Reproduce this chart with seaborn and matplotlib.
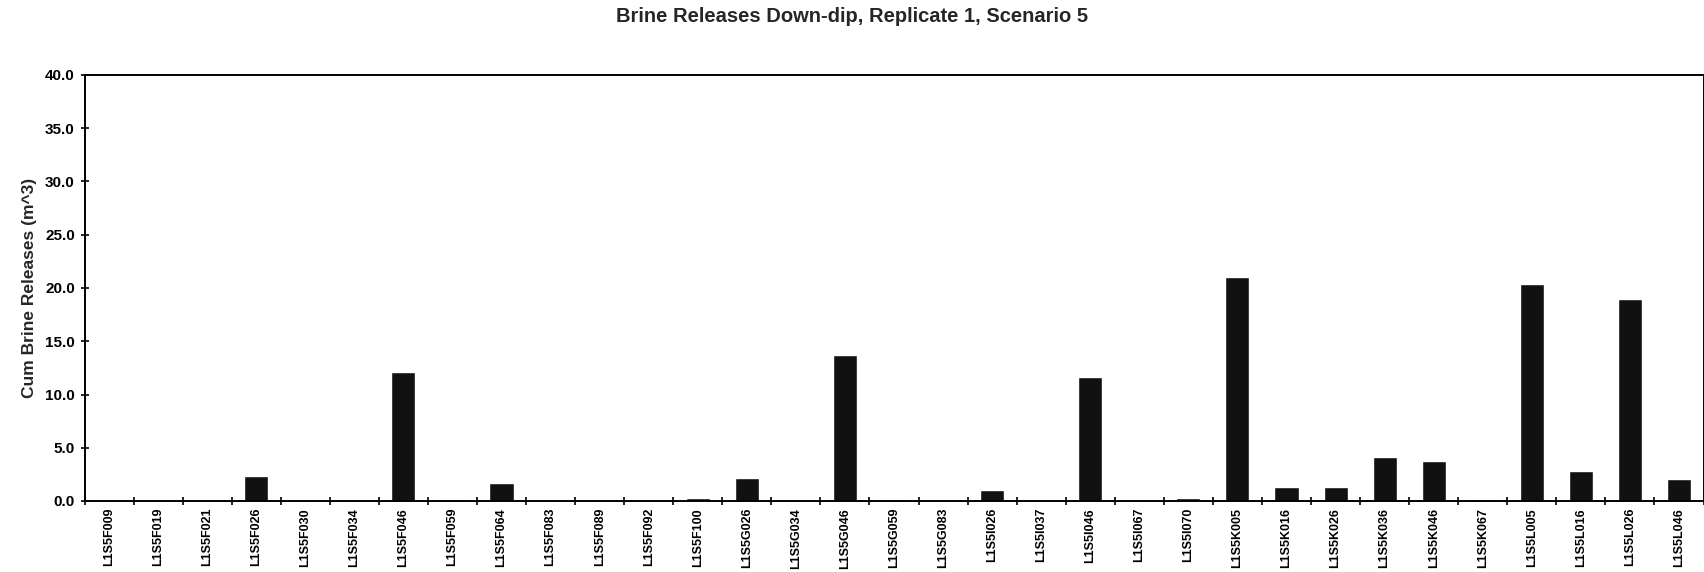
import numpy as np
import pandas as pd
import matplotlib
matplotlib.use("Agg")
import matplotlib.pyplot as plt
import seaborn as sns
from matplotlib.ticker import FixedLocator

# 데이터
wells = ["L1S5F009", "L1S5F019", "L1S5F021", "L1S5F026", "L1S5F030", "L1S5F034",
         "L1S5F046", "L1S5F059", "L1S5F064", "L1S5F083", "L1S5F089", "L1S5F092",
         "L1S5F100", "L1S5G026", "L1S5G034", "L1S5G046", "L1S5G059", "L1S5G083",
         "L1S5I026", "L1S5I037", "L1S5I046", "L1S5I067", "L1S5I070", "L1S5K005",
         "L1S5K016", "L1S5K026", "L1S5K036", "L1S5K046", "L1S5K067", "L1S5L005",
         "L1S5L016", "L1S5L026", "L1S5L046"]
releases = [0.05, 0.0, 0.05, 2.35, 0.05, 0.05,
            12.1, 0.2, 1.7, 0.05, 0.0, 0.05,
            0.3, 2.2, 0.05, 13.7, 0.2, 0.05,
            1.0, 0.0, 11.6, 0.05, 0.25, 21.0,
            1.3, 1.35, 4.1, 3.8, 0.15, 20.4,
            2.8, 19.0, 2.05]
y_ticks = [0, 5, 10, 15, 20, 25, 30, 35, 40]

df = pd.DataFrame({"well": wells, "cum": releases})

sns.set_theme(style="white")
plt.rcParams['font.family'] = ['Liberation Sans', 'DejaVu Sans']

fig = plt.figure(figsize=(17.04, 5.72), dpi=100)
ax = fig.add_axes([84.5 / 1704, 71 / 572, (1703.5 - 84.5) / 1704, 426 / 572])

sns.barplot(data=df, x="well", y="cum", color="#111111", saturation=1,
            width=0.49, ax=ax)

ax.set_xlim(-0.5, len(wells) - 0.5)
ax.set_ylim(0, 40)
ax.set_yticks(y_ticks)
ax.set_yticklabels([f"{v:.1f}" for v in y_ticks], fontsize=11, fontweight="bold")
ax.set_xticks(range(len(wells)))
ax.set_xticklabels(wells, rotation=90, fontsize=9, fontweight="bold",
                   va="top", ha="center")
ax.xaxis.set_minor_locator(FixedLocator(np.arange(-0.5, len(wells), 1.0)))
ax.tick_params(axis="x", which="major", length=0, pad=5, colors="black")
ax.tick_params(axis="x", which="minor", length=6, width=1.2, direction="inout",
               bottom=True, color="black")
ax.tick_params(axis="y", length=6, width=1.2, direction="inout", left=True,
               pad=4, colors="black")

ax.set_xlabel("")
ax.set_ylabel("Cum Brine Releases (m^3)", fontsize=12.5, fontweight="bold",
              labelpad=6)

for s in ax.spines.values():
    s.set_visible(True)
    s.set_color("black")
    s.set_linewidth(1.4)

fig.text(0.5, 1 - 16 / 572, "Brine Releases Down-dip, Replicate 1, Scenario 5",
         ha="center", va="center", fontsize=14.5, fontweight="bold")

fig.savefig("out.png", dpi=100, facecolor="white")
